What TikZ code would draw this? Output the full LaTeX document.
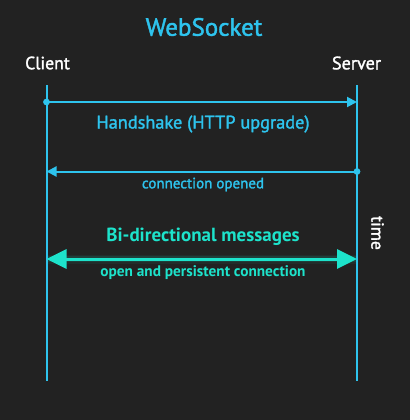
\documentclass[tikz,border=0pt]{standalone}
\usepackage{fontspec}
\setmainfont{PT Sans}
\newfontfamily\medfont{PT Sans}[FakeBold=1.6]
\usetikzlibrary{arrows.meta}
\definecolor{bg}{HTML}{222222}
\definecolor{wsblue}{HTML}{2EC4EE}
\definecolor{wsgreen}{HTML}{1DE3CB}
\tikzset{
  life/.style={draw=wsblue, line width=2pt},
  msg/.style={draw=wsblue, line width=2pt, -{Triangle[length=10pt,width=10pt]}},
  lbl/.style={text=wsblue, inner sep=0pt, anchor=center},
  glbl/.style={text=wsgreen, inner sep=0pt, anchor=center},
  wlbl/.style={text=white, inner sep=0pt, anchor=center},
}
\begin{document}
\begin{tikzpicture}[x=1pt,y=-1pt]
\fill[bg] (0,0) rectangle (410,420);
\useasboundingbox (0,0) rectangle (410,420);
\node[lbl, font=\medfont\fontsize{25}{28}\selectfont] (title) at (204,27) {WebSocket};
\node[wlbl, font=\medfont\fontsize{17.7}{20}\selectfont] (client) at (47.5,63) {Client};
\node[wlbl, font=\medfont\fontsize{18.2}{20}\selectfont] (server) at (356.5,63) {Server};
\coordinate (c0) at (46.5,85);
\coordinate (c1) at (46.5,381);
\coordinate (s0) at (357,85);
\coordinate (s1) at (357,381);
\draw[life] (c0) -- (c1);
\draw[life] (s0) -- (s1);
% handshake
\coordinate (h0) at (46.5,102);
\coordinate (h1) at (357,102);
\fill[wsblue] (h0) circle (3.4);
\draw[msg] (h0) -- (h1);
\node[lbl, font=\medfont\fontsize{18.3}{20}\selectfont] (hs) at (203,124) {Handshake (HTTP upgrade)};
% opened
\coordinate (o0) at (357,171.5);
\coordinate (o1) at (46.5,171.5);
\fill[wsblue] (o0) circle (3.4);
\draw[msg] (o0) -- (o1);
\node[lbl, font=\medfont\fontsize{15}{17}\selectfont] (co) at (203,184.5) {connection opened};
% bidirectional
\coordinate (b0) at (46.5,259);
\coordinate (b1) at (357,259);
\foreach \w/\o in {9/0.06,6/0.1} {
  \draw[wsgreen, opacity=\o, line width=\w pt] (b0) -- (b1);
}
\draw[wsgreen, line width=3pt, {Triangle[length=20pt,width=19pt]}-{Triangle[length=20pt,width=19pt]}] (b0) -- (b1);
\node[glbl, font=\bfseries\fontsize{19}{21}\selectfont] (bi) at (203,237) {Bi-directional messages};
\node[glbl, font=\bfseries\fontsize{15.3}{17}\selectfont] (pc) at (203,273) {open and persistent connection};
\node[wlbl, rotate=-90, font=\medfont\fontsize{17.5}{20}\selectfont] (time) at (377.5,233) {time};
\end{tikzpicture}
\end{document}
